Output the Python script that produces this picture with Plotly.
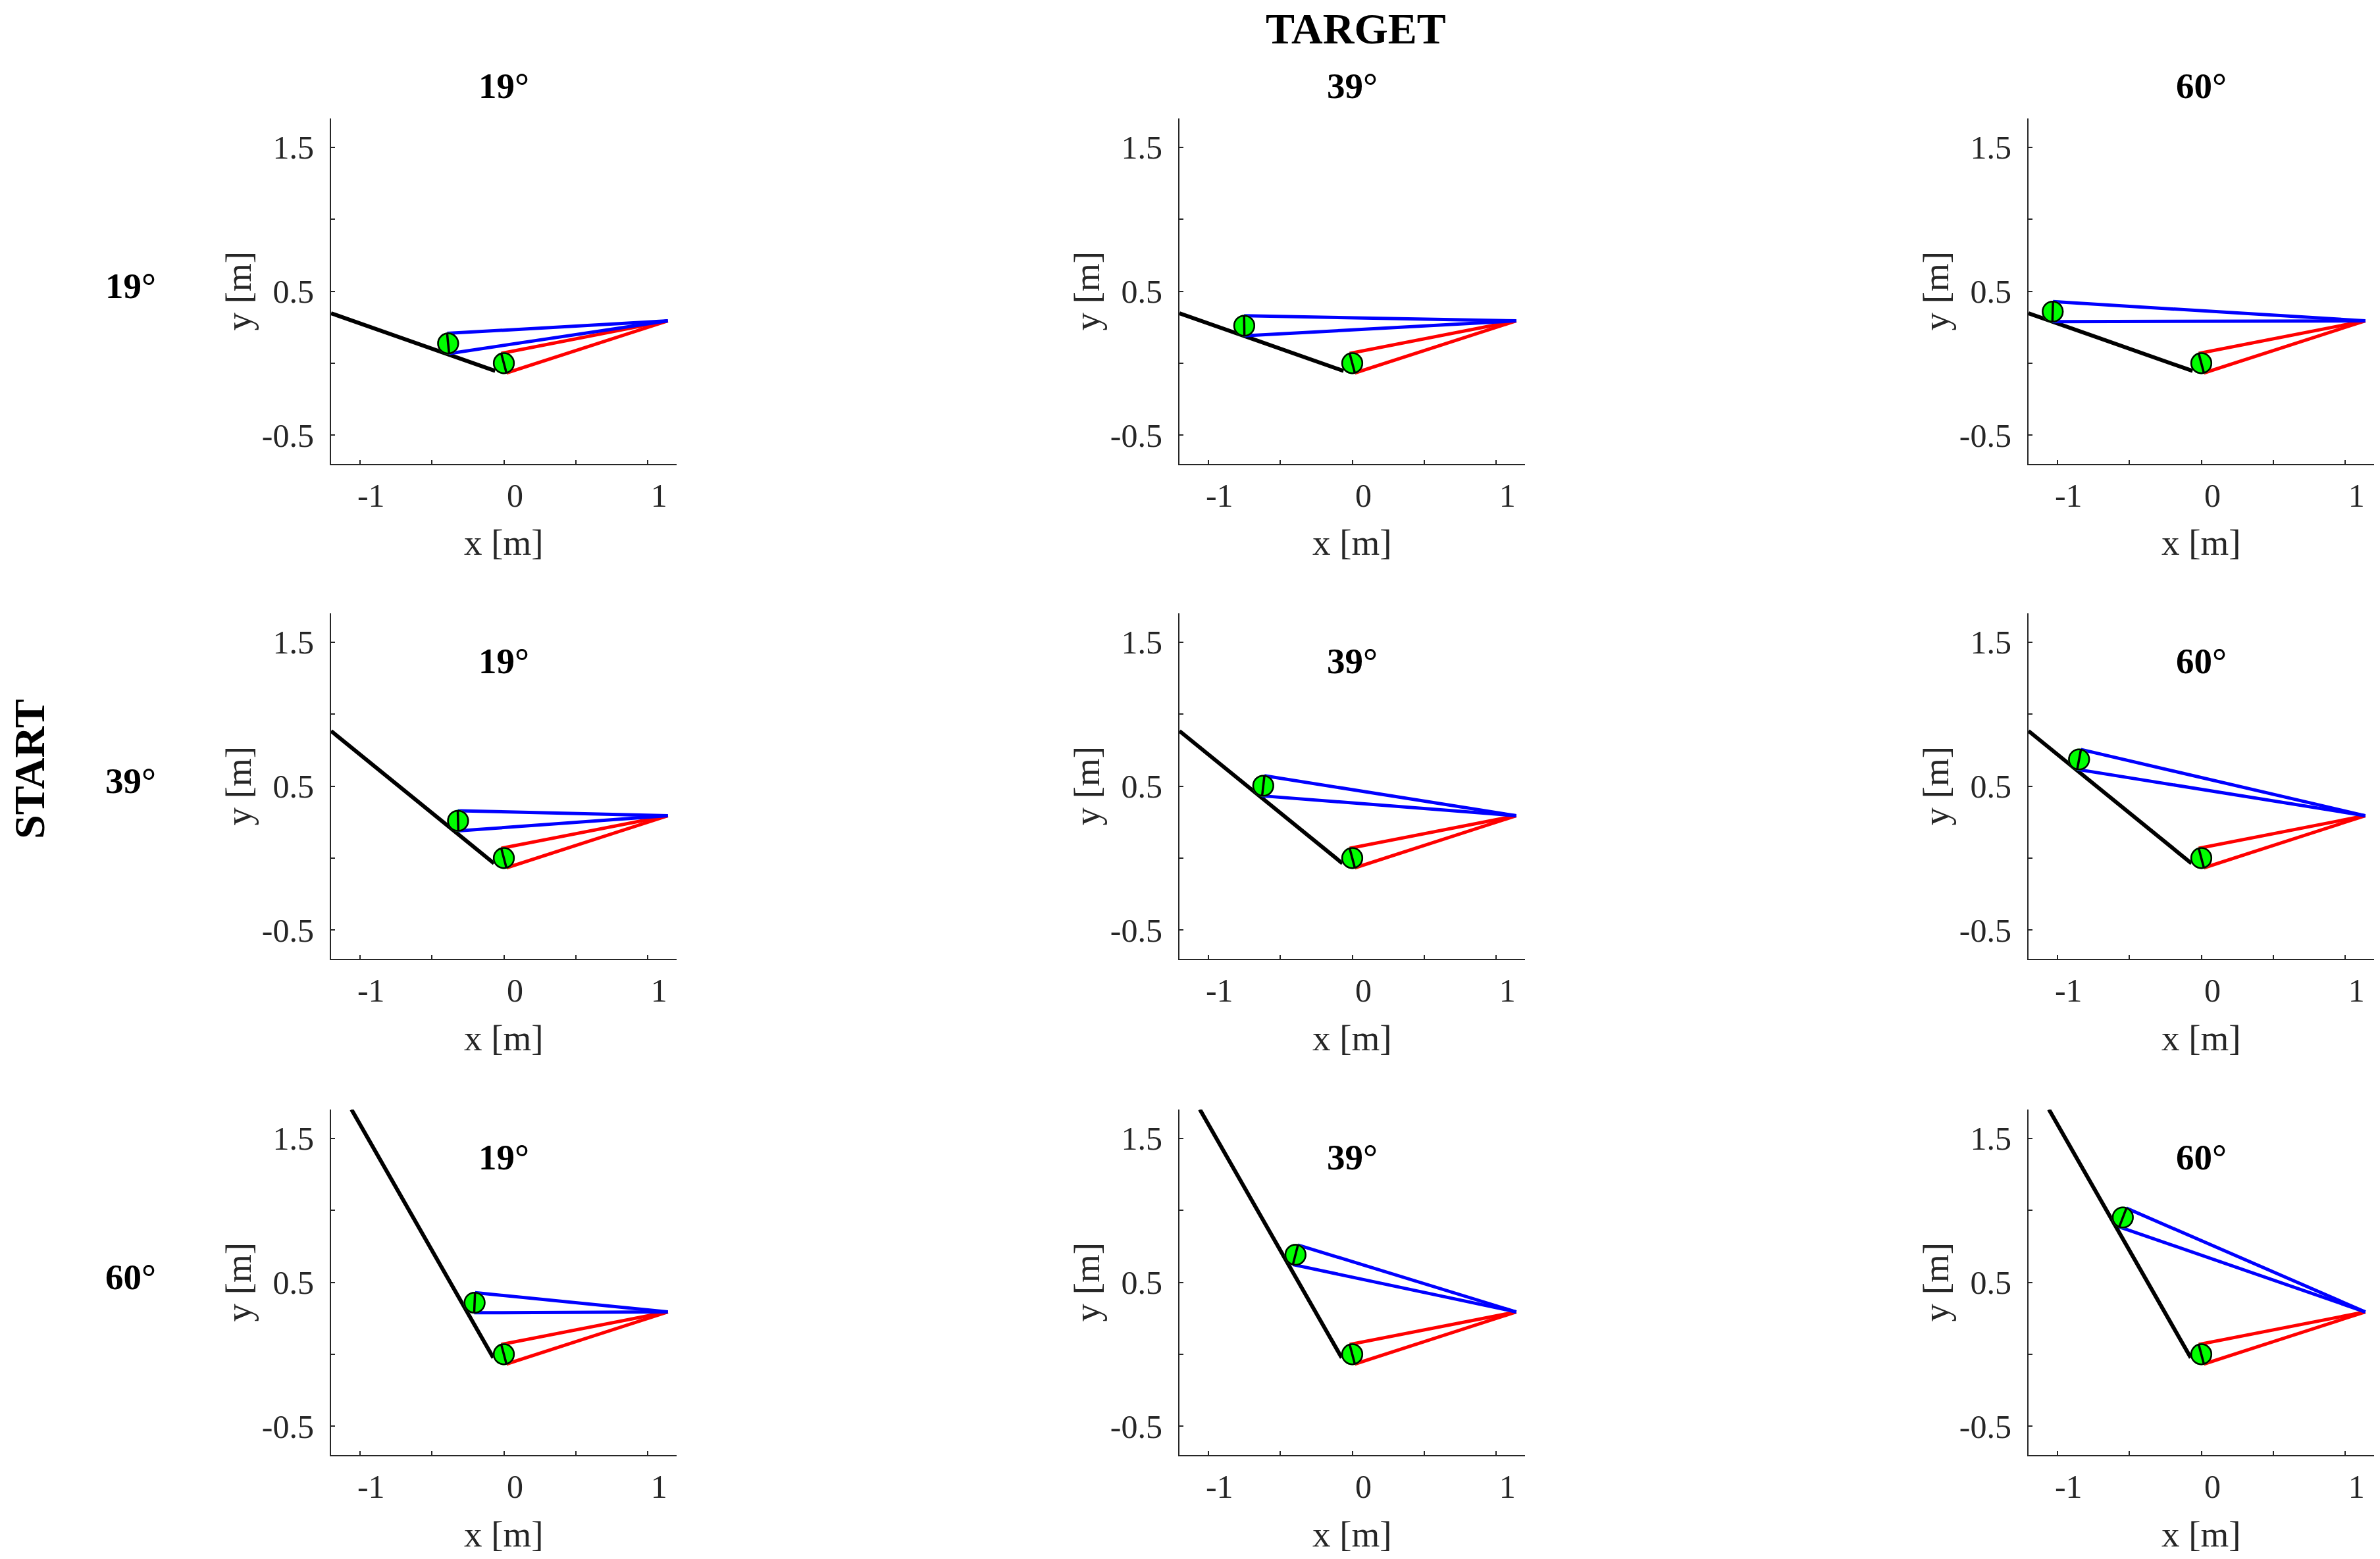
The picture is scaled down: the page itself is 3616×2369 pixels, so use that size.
import plotly.graph_objects as go

start_labels = ["19°", "39°", "60°"]
target_labels = ["19°", "39°", "60°"]

x_tick_vals = [-1, -0.5, 0, 0.5, 1]
x_tick_text = ["-1", "", "0", "", "1"]
y_tick_vals = [-0.5, 0, 0.5, 1, 1.5]
y_tick_text = ["-0.5", "", "0.5", "", "1.5"]

# black ramp, one per start angle (row): upper-left end, lower end
ramp_x = [[-1.20, -0.060], [-1.20, -0.068], [-1.058, -0.073]]
ramp_y = [[0.347, -0.054], [0.883, -0.037], [1.700, -0.025]]

# fixed point where the cables meet
anchor_x = 1.139
anchor_y = 0.294

pulley_r = 0.07

# lower pulley, same in every panel: centre, top cable point, bottom cable point
low_x = [0.0, -0.018, 0.018]
low_y = [0.0, 0.068, -0.068]

# upper pulley centre, [start][target]
up_cx = [[-0.387, -0.750, -1.032],
         [-0.318, -0.618, -0.849],
         [-0.203, -0.394, -0.545]]
up_cy = [[0.137, 0.260, 0.358],
         [0.259, 0.502, 0.685],
         [0.358, 0.691, 0.950]]
# upper pulley cable points (top / bottom)
up_top_x = [[-0.394, -0.751, -1.030],
            [-0.320, -0.610, -0.836],
            [-0.200, -0.377, -0.520]]
up_top_y = [[0.207, 0.330, 0.428],
            [0.329, 0.572, 0.754],
            [0.428, 0.759, 1.015]]
up_bot_x = [[-0.380, -0.749, -1.034],
            [-0.316, -0.626, -0.862],
            [-0.206, -0.412, -0.570]]
up_bot_y = [[0.067, 0.190, 0.288],
            [0.189, 0.432, 0.616],
            [0.288, 0.623, 0.885]]

W, H = 3616, 2369
PAD = 8  # default body margin of the html page
FONT = "Liberation Serif, Times New Roman, serif"
AX_COLOR = "#262626"
col_px = [(503, 1028), (1792, 2317), (3082, 3607)]
row_px = [(180, 705), (932, 1457), (1686, 2211)]


def px(p):
    return (p - PAD) / (W - 2 * PAD)


def py(p):
    return 1 - (p - PAD) / (H - 2 * PAD)


fig = go.Figure()
shapes = []
annotations = []


def pulley(xref, yref, cx, cy, tx, ty, bx, by):
    # green halo, green disc with black rim, black diameter
    shapes.append(dict(type="circle", xref=xref, yref=yref,
                       x0=cx - pulley_r - 0.006, x1=cx + pulley_r + 0.006,
                       y0=cy - pulley_r - 0.006, y1=cy + pulley_r + 0.006,
                       fillcolor="#33ee33", line=dict(width=0)))
    shapes.append(dict(type="circle", xref=xref, yref=yref,
                       x0=cx - pulley_r, x1=cx + pulley_r,
                       y0=cy - pulley_r, y1=cy + pulley_r,
                       fillcolor="#00ff00", line=dict(color="black", width=2.5)))
    shapes.append(dict(type="line", xref=xref, yref=yref,
                       x0=tx, y0=ty, x1=bx, y1=by,
                       line=dict(color="black", width=3.5)))


def label(text, x, y, size, color="black", angle=0, xref="paper", yref="paper"):
    annotations.append(dict(text=text, x=x, y=y, xref=xref, yref=yref,
                            xanchor="center", yanchor="middle", textangle=angle,
                            showarrow=False, font=dict(family=FONT, size=size, color=color)))


for r in range(3):
    for c in range(3):
        k = r * 3 + c + 1
        xa = "x" if k == 1 else f"x{k}"
        ya = "y" if k == 1 else f"y{k}"
        x0p, x1p = col_px[c]
        y0p, y1p = row_px[r]
        fig.update_layout({
            f"xaxis{'' if k == 1 else k}": dict(
                domain=[px(x0p), px(x1p)], anchor=ya, range=[-1.2, 1.2],
                tickvals=x_tick_vals, ticktext=x_tick_text,
                ticks="inside", ticklen=6, tickwidth=2, tickcolor=AX_COLOR,
                showline=True, linecolor=AX_COLOR, linewidth=2,
                showgrid=False, zeroline=False, fixedrange=True,
                ticklabelstandoff=3, ticklabelshift=17,
                tickfont=dict(family=FONT, size=50, color=AX_COLOR)),
            f"yaxis{'' if k == 1 else k}": dict(
                domain=[py(y1p), py(y0p)], anchor=xa, range=[-0.7, 1.7],
                tickvals=y_tick_vals, ticktext=y_tick_text,
                ticks="inside", ticklen=6, tickwidth=2, tickcolor=AX_COLOR,
                showline=True, linecolor=AX_COLOR, linewidth=2,
                showgrid=False, zeroline=False, fixedrange=True,
                ticklabelstandoff=14,
                tickfont=dict(family=FONT, size=50, color=AX_COLOR)),
        })

        fig.add_trace(go.Scatter(x=ramp_x[r], y=ramp_y[r], mode="lines",
                                 line=dict(color="black", width=6),
                                 xaxis=xa, yaxis=ya, showlegend=False, hoverinfo="skip"))
        fig.add_trace(go.Scatter(x=[low_x[1], anchor_x, None, low_x[2], anchor_x],
                                 y=[low_y[1], anchor_y, None, low_y[2], anchor_y],
                                 mode="lines", line=dict(color="#ff0000", width=5),
                                 xaxis=xa, yaxis=ya, showlegend=False, hoverinfo="skip"))
        fig.add_trace(go.Scatter(x=[up_top_x[r][c], anchor_x, None, up_bot_x[r][c], anchor_x],
                                 y=[up_top_y[r][c], anchor_y, None, up_bot_y[r][c], anchor_y],
                                 mode="lines", line=dict(color="#0000ff", width=5),
                                 xaxis=xa, yaxis=ya, showlegend=False, hoverinfo="skip"))

        pulley(xa, ya, up_cx[r][c], up_cy[r][c], up_top_x[r][c], up_top_y[r][c],
               up_bot_x[r][c], up_bot_y[r][c])
        pulley(xa, ya, low_x[0], low_y[0], low_x[1], low_y[1], low_x[2], low_y[2])

        # panel title: above the axes in the first row, inside below
        title_y = py(131) if r == 0 else py(y0p + 72)
        label(f"<b>{target_labels[c]}</b>", 0, title_y, 55, xref=xa)

        # axis labels
        label("x [m]", px((x0p + x1p) / 2), py(y1p + 120), 55, AX_COLOR)
        label("y [m]", px(x0p - 141), py((y0p + y1p) / 2), 55, AX_COLOR, angle=-90)

    label(f"<b>{start_labels[r]}</b>", px(198), py((row_px[r][0] + row_px[r][1]) / 2 - 8), 55)

label("<b>TARGET</b>", px(2060), py(44), 66)
label("<b>START</b>", px(44), py(1169), 66, angle=-90)

fig.update_layout(width=W - 2 * PAD, height=H - 2 * PAD, margin=dict(l=0, r=0, t=0, b=0),
                  paper_bgcolor="white", plot_bgcolor="white",
                  shapes=shapes, annotations=annotations)

fig.write_html("out.html")
